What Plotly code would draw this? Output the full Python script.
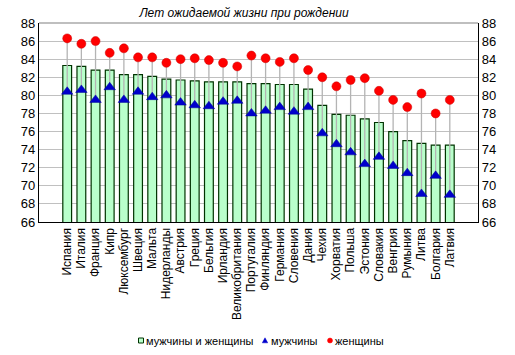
import plotly.graph_objects as go

countries = ["Испания", "Италия", "Франция", "Кипр", "Люксембург", "Швеция", "Мальта",
             "Нидерланды", "Австрия", "Греция", "Бельгия", "Ирландия", "Великобритания",
             "Португалия", "Финляндия", "Германия", "Словения", "Дания", "Чехия", "Хорватия",
             "Польша", "Эстония", "Словакия", "Венгрия", "Румыния", "Литва", "Болгария", "Латвия"]
total = [83.3, 83.2, 82.8, 82.8, 82.3, 82.3, 82.1, 81.8, 81.7, 81.6, 81.5, 81.5, 81.5,
         81.3, 81.3, 81.2, 81.2, 80.7, 78.9, 77.9, 77.8, 77.4, 77.0, 76.0, 75.0, 74.7, 74.5, 74.5]
men = [80.4, 80.6, 79.5, 80.9, 79.5, 80.4, 79.8, 80.0, 79.2, 78.9, 78.8, 79.3, 79.4,
       78.0, 78.3, 78.7, 78.2, 78.7, 75.8, 74.6, 73.7, 72.4, 73.2, 72.2, 71.4, 69.1, 71.1, 69.0]
women = [86.3, 85.7, 86.0, 84.7, 85.2, 84.2, 84.2, 83.6, 84.0, 84.1, 83.9, 83.6, 83.2,
         84.4, 84.1, 83.7, 84.1, 82.8, 82.0, 81.0, 81.7, 81.9, 80.5, 79.5, 78.7, 80.2, 78.0, 79.5]
yticks = list(range(66, 89, 2))
series_names = ["мужчины и женщины", "мужчины", "женщины"]

FONT = "Liberation Sans, Arial, sans-serif"
BAR_FILL = "#B9FFCB"
BAR_LINE = "#003300"
MEN_COLOR = "#0000CC"
WOMEN_COLOR = "#FF0000"

W, H = 515, 355
ML, MR, MT, MB = 39, 37, 23, 133
PW, PH = W - ML - MR, H - MT - MB


def px(x):
    return (x - ML) / PW


def py(y):
    return (H - MB - y) / PH


# high-low connector lines between men and women values
lx, ly = [], []
for c, m, w in zip(countries, men, women):
    lx += [c, c, None]
    ly += [m, w, None]

fig = go.Figure()
fig.add_trace(go.Bar(x=countries, y=total, name=series_names[0],
                     marker=dict(color=BAR_FILL, line=dict(color=BAR_LINE, width=1.2)),
                     width=0.62, showlegend=False))
fig.add_trace(go.Scatter(x=lx, y=ly, mode="lines", line=dict(color="#B4B4B4", width=1.3),
                         showlegend=False, hoverinfo="skip"))
fig.add_trace(go.Scatter(x=countries, y=men, mode="markers", name=series_names[1],
                         marker=dict(symbol="triangle-up", size=10, color=MEN_COLOR,
                                     line=dict(color="#000099", width=0.5)), showlegend=False))
fig.add_trace(go.Scatter(x=countries, y=women, mode="markers", name=series_names[2],
                         marker=dict(symbol="circle", size=9, color=WOMEN_COLOR,
                                     line=dict(color="#CC0000", width=0.5)), showlegend=False))
# invisible trace to anchor the right axis
fig.add_trace(go.Scatter(x=countries, y=total, yaxis="y2", mode="markers",
                         marker=dict(opacity=0), showlegend=False, hoverinfo="skip"))

# compact legend (Excel style)
LY = 340.5
shapes = [
    dict(type="line", xref="x domain", yref="y domain", x0=0, x1=1, y0=1, y1=1,
         line=dict(color="#808080", width=1.2)),
    dict(type="rect", xref="paper", yref="paper", x0=px(138.5), x1=px(143.5),
         y0=py(LY + 2.5), y1=py(LY - 2.5), fillcolor=BAR_FILL, line=dict(color=BAR_LINE, width=1)),
    dict(type="path", xref="paper", yref="paper",
         path=f"M {px(262.3)} {py(LY + 2.3)} L {px(267.7)} {py(LY + 2.3)} L {px(265)} {py(LY - 2.7)} Z",
         fillcolor=MEN_COLOR, line=dict(color=MEN_COLOR, width=0.5)),
    dict(type="circle", xref="paper", yref="paper", x0=px(327.5), x1=px(332.5),
         y0=py(LY + 2.5), y1=py(LY - 2.5), fillcolor=WOMEN_COLOR, line=dict(color=WOMEN_COLOR, width=0.5)),
]
annotations = [
    dict(text=series_names[0], x=px(144), y=py(LY), xref="paper", yref="paper",
         xanchor="left", yanchor="middle", showarrow=False, font=dict(size=11)),
    dict(text=series_names[1], x=px(268.5), y=py(LY), xref="paper", yref="paper",
         xanchor="left", yanchor="middle", showarrow=False, font=dict(size=11)),
    dict(text=series_names[2], x=px(333), y=py(LY), xref="paper", yref="paper",
         xanchor="left", yanchor="middle", showarrow=False, font=dict(size=11)),
]

fig.update_layout(
    width=W, height=H,
    margin=dict(l=ML, r=MR, t=MT, b=MB),
    paper_bgcolor="white", plot_bgcolor="white",
    font=dict(family=FONT, size=12, color="black"),
    title=dict(text="<i>Лет ожидаемой жизни при рождении</i>", x=244 / W, xanchor="center",
               y=1 - 13 / H, yanchor="middle", font=dict(size=12, family=FONT)),
    xaxis=dict(type="category", tickangle=-90, showline=True, linecolor="black", linewidth=1.3,
               ticks="", tickfont=dict(size=12), fixedrange=True),
    yaxis=dict(range=[66, 88], tickvals=yticks, showgrid=True, gridcolor="#C0C0C0", gridwidth=1,
               showline=True, linecolor="black", linewidth=1.3, ticks="", zeroline=False,
               tickfont=dict(size=13)),
    yaxis2=dict(range=[66, 88], tickvals=yticks, overlaying="y", side="right", showgrid=False,
                showline=True, linecolor="black", linewidth=1.3, ticks="", zeroline=False,
                tickfont=dict(size=13)),
    shapes=shapes,
    annotations=annotations,
    showlegend=False,
)

fig.write_html("out.html", config={"displayModeBar": False},
               post_script="document.body.style.margin='0';document.body.style.overflow='hidden';")
